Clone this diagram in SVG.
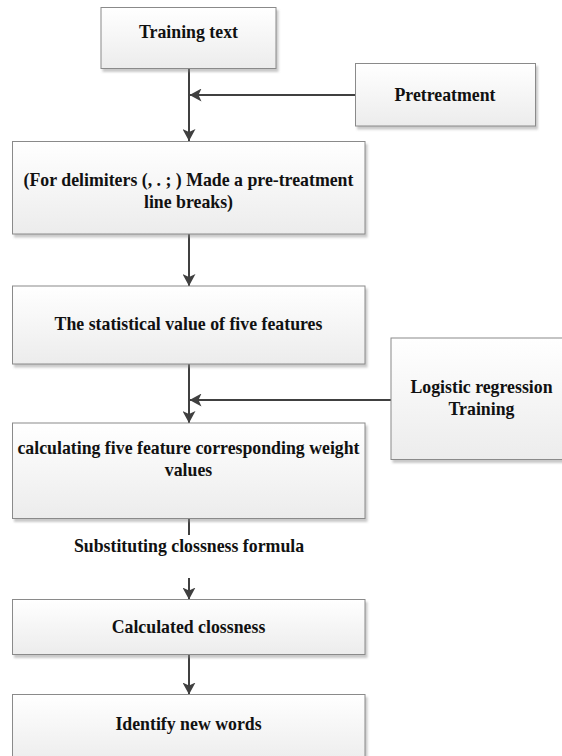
<svg xmlns="http://www.w3.org/2000/svg" width="562" height="756" viewBox="0 0 562 756">
<defs>
<linearGradient id="boxfill" x1="0" y1="0" x2="0" y2="1">
<stop offset="0" stop-color="#ffffff"/>
<stop offset="1" stop-color="#ececec"/>
</linearGradient>
<filter id="shadow" x="-5%" y="-10%" width="115%" height="130%">
<feDropShadow dx="2" dy="3" stdDeviation="1.2" flood-color="#888888" flood-opacity="0.45"/>
</filter>
<marker id="arrow" viewBox="0 0 12 13" refX="12" refY="6.5" markerWidth="12" markerHeight="13" markerUnits="userSpaceOnUse" orient="auto">
<path d="M0,0 L12,6.5 L0,13 L3,6.5 Z" fill="#404040"/>
</marker>
<style>
.box{fill:url(#boxfill);stroke:#8a8a8a;stroke-width:1;filter:url(#shadow);}
.t{font-family:"Liberation Serif","Times New Roman",serif;font-weight:bold;font-size:17.8px;fill:#111111;text-anchor:middle;}
.c{stroke:#404040;stroke-width:2;fill:none;}
</style>
</defs>
<rect width="562" height="756" fill="#ffffff"/>

<g id="connectors">
<line class="c" x1="189" y1="68.5" x2="189" y2="141" marker-end="url(#arrow)"/>
<line class="c" x1="355.5" y1="95" x2="189.5" y2="95" marker-end="url(#arrow)"/>
<line class="c" x1="189" y1="234" x2="189" y2="286" marker-end="url(#arrow)"/>
<line class="c" x1="189" y1="364" x2="189" y2="423" marker-end="url(#arrow)"/>
<line class="c" x1="391" y1="400" x2="189.5" y2="400" marker-end="url(#arrow)"/>
<line class="c" x1="189" y1="518.5" x2="189" y2="535"/>
<line class="c" x1="189" y1="578" x2="189" y2="599.5" marker-end="url(#arrow)"/>
<line class="c" x1="189" y1="654.5" x2="189" y2="694.5" marker-end="url(#arrow)"/>
</g>

<g id="n-training-text">
<rect class="box" x="101" y="7.5" width="175" height="61"/>
<text class="t" x="188.5" y="37.5">Training text</text>
</g>

<g id="n-pretreatment">
<rect class="box" x="355.5" y="63.5" width="180" height="62.5"/>
<text class="t" x="445" y="100.5">Pretreatment</text>
</g>

<g id="n-delimiters">
<rect class="box" x="12.5" y="141.5" width="352.5" height="92.5"/>
<text class="t" x="188.5" y="185.5">(For delimiters (, . ; ) Made a pre-treatment</text>
<text class="t" x="188.5" y="207.5">line breaks)</text>
</g>

<g id="n-statistical">
<rect class="box" x="12.5" y="286" width="352.5" height="78"/>
<text class="t" x="188.5" y="330">The statistical value of five features</text>
</g>

<g id="n-logistic">
<rect class="box" x="391" y="338" width="180" height="121.5"/>
<text class="t" x="481.5" y="393">Logistic regression</text>
<text class="t" x="481.5" y="414.5">Training</text>
</g>

<g id="n-weights">
<rect class="box" x="12.5" y="423" width="352.5" height="95.5"/>
<text class="t" x="188.5" y="453.5">calculating five feature corresponding weight</text>
<text class="t" x="188.5" y="476">values</text>
</g>

<g id="label-substituting">
<text class="t" x="189" y="551.5">Substituting clossness formula</text>
</g>

<g id="n-closeness">
<rect class="box" x="12.5" y="599.5" width="352.5" height="55"/>
<text class="t" x="188.5" y="632.5">Calculated clossness</text>
</g>

<g id="n-identify">
<rect class="box" x="12.5" y="694.5" width="352.5" height="70"/>
<text class="t" x="188.5" y="730">Identify new words</text>
</g>
</svg>
